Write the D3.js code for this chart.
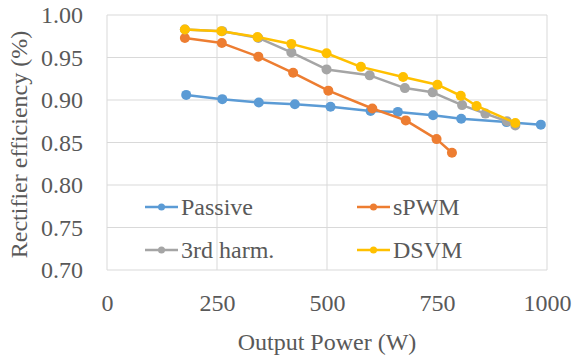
<!DOCTYPE html>
<html><head><meta charset="utf-8">
<script src="https://cdn.jsdelivr.net/npm/d3@7"></script>
<style>body{margin:0;background:#fff}svg{display:block}
svg text{font-family:"Liberation Serif","Times New Roman","DejaVu Serif",serif !important;}</style>
</head><body><svg id="c" width="574" height="356"></svg>
<script>
const seriesNames = ["Passive", "sPWM", "3rd harm.", "DSVM"];
const colors = ["#5B9BD5", "#ED7D31", "#A5A5A5", "#FFC000"];
const passiveX = [180, 262, 345, 427, 508, 599, 661, 741, 805, 908, 986];
const passiveY = [0.906, 0.901, 0.897, 0.895, 0.892, 0.887, 0.886, 0.882, 0.878, 0.874, 0.871];
const spwmX = [177, 261, 344, 423, 503, 603, 679, 749, 784];
const spwmY = [0.973, 0.967, 0.951, 0.932, 0.911, 0.890, 0.876, 0.854, 0.838];
const harmX = [177, 262, 344, 419, 499, 597, 677, 740, 807, 860, 909, 928];
const harmY = [0.983, 0.981, 0.973, 0.956, 0.936, 0.929, 0.914, 0.909, 0.894, 0.884, 0.875, 0.870];
const dsvmX = [177, 260, 342, 419, 499, 577, 673, 751, 804, 840, 928];
const dsvmY = [0.983, 0.981, 0.974, 0.966, 0.955, 0.939, 0.927, 0.918, 0.905, 0.893, 0.873];
const xTicks = [0, 250, 500, 750, 1000];
const yTicks = [0.70, 0.75, 0.80, 0.85, 0.90, 0.95, 1.00];

const series = [[passiveX, passiveY], [spwmX, spwmY], [harmX, harmY], [dsvmX, dsvmY]];
const svg = d3.select("#c");
const L = 107, R = 547, T = 15, B = 270;
const x = d3.scaleLinear().domain([0, 1000]).range([L, R]);
const y = d3.scaleLinear().domain([0.70, 1.00]).range([B, T]);
const txt = "#595959";

svg.append("g").selectAll("line").data(yTicks).join("line")
  .attr("x1", L).attr("x2", R).attr("y1", d => y(d)).attr("y2", d => y(d))
  .attr("stroke", "#D9D9D9").attr("stroke-width", 1);
svg.append("g").selectAll("line").data(xTicks).join("line")
  .attr("y1", T).attr("y2", B).attr("x1", d => x(d)).attr("x2", d => x(d))
  .attr("stroke", "#D9D9D9").attr("stroke-width", 1);

const xAxis = svg.append("g").attr("transform", `translate(0,${B})`)
  .call(d3.axisBottom(x).tickValues(xTicks).tickSize(0).tickPadding(24).tickFormat(d3.format("d")));
const yAxis = svg.append("g").attr("transform", `translate(${L},0)`)
  .call(d3.axisLeft(y).tickValues(yTicks).tickSize(0).tickPadding(24).tickFormat(d3.format(".2f")));
[xAxis, yAxis].forEach(a => {
  a.select(".domain").remove();
  a.attr("font-family", null).attr("font-size", null);
  a.selectAll("text").attr("font-size", 24).attr("fill", txt);
});

const line = d3.line().x(d => x(d[0])).y(d => y(d[1]));
series.forEach((s, i) => {
  const pts = s[0].map((v, j) => [v, s[1][j]]);
  const g = svg.append("g");
  g.append("path").datum(pts).attr("d", line).attr("fill", "none")
    .attr("stroke", colors[i]).attr("stroke-width", 2.5).attr("stroke-linejoin", "round");
  g.selectAll("circle").data(pts).join("circle")
    .attr("cx", d => x(d[0])).attr("cy", d => y(d[1])).attr("r", 5).attr("fill", colors[i]);
});

const legPos = [[145, 207], [357, 207], [145, 250], [357, 250]];
seriesNames.forEach((n, i) => {
  const [lx, ly] = legPos[i];
  const g = svg.append("g");
  g.append("line").attr("x1", lx).attr("x2", lx + 33).attr("y1", ly).attr("y2", ly)
    .attr("stroke", colors[i]).attr("stroke-width", 2.5);
  g.append("circle").attr("cx", lx + 16.5).attr("cy", ly).attr("r", 3.5).attr("fill", colors[i]);
  g.append("text").attr("x", lx + 36).attr("y", ly + 8).text(n)
    .attr("font-size", 24).attr("fill", txt);
});

svg.append("text").attr("x", (L + R) / 2).attr("y", 350).attr("text-anchor", "middle")
  .attr("font-size", 24).attr("fill", txt).text("Output Power (W)");
svg.append("text").attr("transform", `translate(27,${(T + B) / 2 + 2}) rotate(-90)`)
  .attr("text-anchor", "middle").attr("font-size", 24)
  .attr("fill", txt).text("Rectifier efficiency (%)");
</script></body></html>
